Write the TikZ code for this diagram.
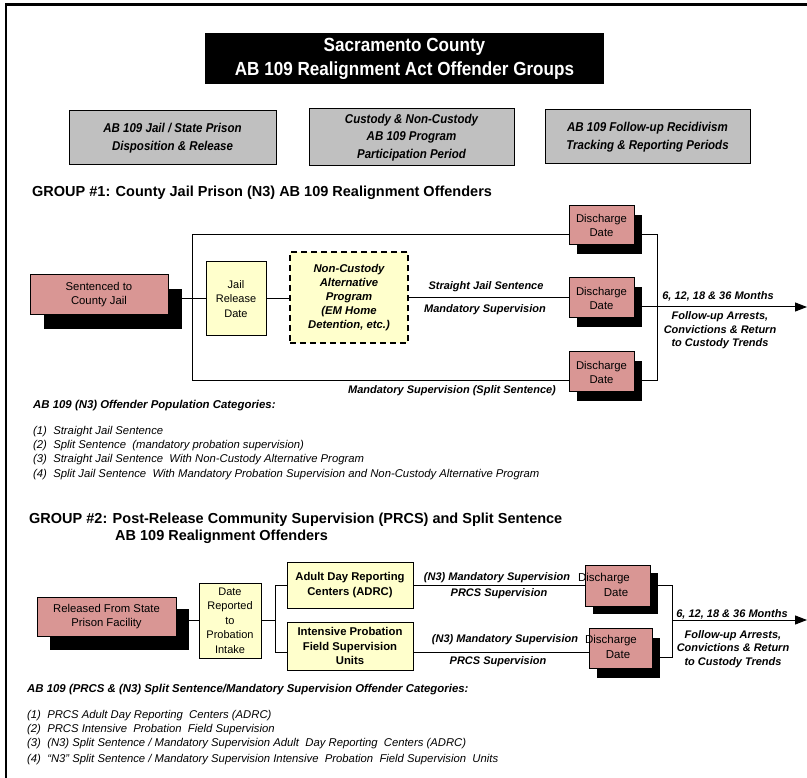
\documentclass[tikz,border=0pt]{standalone}
\usepackage{fontspec}
\setmainfont{Liberation Sans}
\newfontfamily\narrowfont[FakeStretch=0.9]{Liberation Sans}
\usetikzlibrary{arrows.meta}
\definecolor{pinkc}{RGB}{217,150,148}
\definecolor{yelc}{RGB}{255,255,204}
\definecolor{grayc}{RGB}{192,192,192}
\tikzset{
  conn/.style={line width=1pt},
  pinkbox/.style={draw, fill=pinkc, line width=1pt, inner sep=0pt, align=center, font=\fontsize{11.3}{14}\selectfont},
  shadowbox/.style={fill=black, inner sep=0pt},
  yelbox/.style={draw, fill=yelc, line width=1pt, inner sep=0pt, align=center, font=\fontsize{11}{14.5}\selectfont},
  graybox/.style={draw, fill=grayc, line width=1pt, inner sep=0pt, align=center, font=\narrowfont\bfseries\itshape\fontsize{12.8}{17.5}\selectfont},
  lbl/.style={inner sep=0pt, font=\bfseries\itshape\fontsize{11}{13.5}\selectfont},
  notehead/.style={inner sep=0pt, anchor=west, font=\bfseries\itshape\fontsize{11.4}{13.5}\selectfont},
  note/.style={inner sep=0pt, anchor=west, font=\itshape\fontsize{11.3}{13}\selectfont},
  head/.style={inner sep=0pt, anchor=west, font=\bfseries\fontsize{14.5}{17}\selectfont},
  arr/.style={conn, -{Triangle[length=12pt,width=9pt]}}
}
\begin{document}
\begin{tikzpicture}[x=1pt,y=-1pt]
\useasboundingbox (0,0) rectangle (807,778);
\draw[line width=2.8pt] (6,778) -- (6,4.5) -- (807,4.5);

% title
\node[fill=black, text=white, minimum width=399pt, minimum height=51pt, inner sep=0pt, align=center,
  font=\narrowfont\bfseries\fontsize{19}{24}\selectfont] (title) at (404.5,58.5)
  {Sacramento County\\AB 109 Realignment Act Offender Groups};

% gray phase boxes
\node[graybox, minimum width=207pt, minimum height=54pt] (g1) at (172.5,138) {AB 109 Jail / State Prison\\Disposition \& Release};
\node[graybox, minimum width=205pt, minimum height=57pt] (g2) at (411.5,137.5) {Custody \& Non-Custody\\AB 109 Program\\Participation Period};
\node[graybox, minimum width=205pt, minimum height=54pt] (g3) at (647.5,137) {AB 109 Follow-up Recidivism\\Tracking \& Reporting Periods};

% ---------------- GROUP 1
\node[head] (h1) at (32,193) {GROUP \#1: County Jail Prison (N3) AB 109 Realignment Offenders};

\node[shadowbox, minimum width=138pt, minimum height=40pt] (sentS) at (113,309) {};
\node[pinkbox, minimum width=138pt, minimum height=40pt] (sent) at (99,295) {Sentenced to\\County Jail};
\node[yelbox, minimum width=60pt, minimum height=74pt] (jail) at (236,299) {Jail\\Release\\Date};
\node[yelbox, dashed, dash pattern=on 6pt off 4pt, line width=1.2pt, minimum width=118pt, minimum height=91pt,
  font=\bfseries\itshape\fontsize{11.3}{14.2}\selectfont] (ncap) at (349,297.5)
  {Non-Custody\\Alternative\\Program\\(EM Home\\Detention, etc.)};

\node[shadowbox, minimum width=65pt, minimum height=39pt] (d1S) at (609.5,234.5) {};
\node[pinkbox, minimum width=65pt, minimum height=39pt] (d1) at (601.5,225.5) {Discharge\\Date};
\node[shadowbox, minimum width=65pt, minimum height=40pt] (d2S) at (609.5,307) {};
\node[pinkbox, minimum width=65pt, minimum height=40pt] (d2) at (601.5,298) {Discharge\\Date};
\node[shadowbox, minimum width=65pt, minimum height=40pt] (d3S) at (609.5,381) {};
\node[pinkbox, minimum width=65pt, minimum height=40pt] (d3) at (601.5,372) {Discharge\\Date};

\coordinate (jx) at (192,0);
\coordinate (rx) at (657,0);
\coordinate (aend1) at (807,307);

\draw[conn] (sentS.east |- jail.west) -- (jail.west);
\draw[conn] (jail.east) -- (ncap.west |- jail.east);
\draw[conn] (ncap.east) -- (d2.west |- ncap.east);
\draw[conn] (d1.west |- d1S.east) -- (jx |- d1S.east) -- (jx |- d3S.east) -- (d3.west |- d3S.east);
\draw[conn] (d1S.east) -- (rx |- d1S.east) -- (rx |- d3S.east) -- (d3S.east);
\draw[arr] (d2S.east) -- (aend1);

\node[lbl] (l1) at (486,287) {Straight Jail Sentence};
\node[lbl] (l2) at (485,310) {Mandatory Supervision};
\node[lbl] (l3) at (718,296) {6, 12, 18 \& 36 Months};
\node[lbl, align=center] (l4) at (720,330.5) {Follow-up Arrests,\\Convictions \& Return\\to Custody Trends};
\node[lbl] (l5) at (452,391) {Mandatory Supervision (Split Sentence)};

\node[notehead] (n1h) at (33,406) {AB 109 (N3) Offender Population Categories:};
\node[note] (n1a) at (33,432) {(1)\ \ Straight Jail Sentence};
\node[note] (n1b) at (33,446) {(2)\ \ Split Sentence\ \ (mandatory probation supervision)};
\node[note] (n1c) at (33,460) {(3)\ \ Straight Jail Sentence\ \ With Non-Custody Alternative Program};
\node[note] (n1d) at (33,475) {(4)\ \ Split Jail Sentence\ \ With Mandatory Probation Supervision and Non-Custody Alternative Program};

% ---------------- GROUP 2
\node[head] (h2a) at (29,520) {GROUP \#2: Post-Release Community Supervision (PRCS) and Split Sentence};
\node[head] (h2b) at (115,537) {AB 109 Realignment Offenders};

\node[shadowbox, minimum width=139pt, minimum height=41pt] (relS) at (119.5,629.5) {};
\node[pinkbox, minimum width=139pt, minimum height=39pt] (rel) at (106.5,616.5) {Released From State\\Prison Facility};
\node[yelbox, minimum width=62pt, minimum height=75pt] (date) at (230,620.5) {Date\\Reported\\to\\Probation\\Intake};
\node[yelbox, minimum width=126pt, minimum height=46pt, font=\bfseries\fontsize{11.3}{15}\selectfont] (adrc) at (350,585) {Adult Day Reporting\\Centers (ADRC)};
\node[yelbox, minimum width=126pt, minimum height=48pt, font=\bfseries\fontsize{11.3}{14.5}\selectfont] (ipfs) at (350,646) {Intensive Probation\\Field Supervision\\Units};

\node[shadowbox, minimum width=65pt, minimum height=41pt] (e1S) at (625.5,593.5) {};
\node[pinkbox, minimum width=65pt, minimum height=41pt] (e1) at (617.5,585.5) {};
\node[shadowbox, minimum width=63pt, minimum height=40pt] (e2S) at (628.5,658) {};
\node[pinkbox, minimum width=63pt, minimum height=40pt] (e2) at (620.5,648) {};
\node[inner sep=0pt, font=\fontsize{11.5}{14}\selectfont] (e1a) at (604,579) {Discharge};
\node[inner sep=0pt, font=\fontsize{11.5}{14}\selectfont] (e1b) at (616,593) {Date};
\node[inner sep=0pt, font=\fontsize{11.5}{14}\selectfont] (e2a) at (611,641) {Discharge};
\node[inner sep=0pt, font=\fontsize{11.5}{14}\selectfont] (e2b) at (618,655) {Date};

\coordinate (jx2) at (275,0);
\coordinate (rx2) at (672,0);
\coordinate (y2a) at (0,585.5);
\coordinate (y2b) at (0,652);
\coordinate (y2c) at (0,657);
\coordinate (y2d) at (0,620);
\coordinate (aend2) at (807,620);

\draw[conn] (relS.east |- date.west) -- (date.west);
\draw[conn] (date.east) -- (jx2 |- date.east);
\draw[conn] (adrc.west |- y2a) -- (jx2 |- y2a) -- (jx2 |- y2b) -- (ipfs.west |- y2b);
\draw[conn] (adrc.east |- y2a) -- (e1.west |- y2a);
\draw[conn] (ipfs.east |- y2b) -- (e2.west |- y2b);
\draw[conn] (e1S.east |- y2a) -- (rx2 |- y2a) -- (rx2 |- y2c) -- (e2S.east |- y2c);
\draw[arr] (rx2 |- y2d) -- (aend2);

\node[lbl] (m1) at (497,578) {(N3) Mandatory Supervision};
\node[lbl] (m2) at (499,594) {PRCS Supervision};
\node[lbl] (m3) at (505,640) {(N3) Mandatory Supervision};
\node[lbl] (m4) at (498,662) {PRCS Supervision};
\node[lbl] (t1) at (732,614) {6, 12, 18 \& 36 Months};
\node[lbl, align=center] (t2) at (733,649) {Follow-up Arrests,\\Convictions \& Return\\to Custody Trends};

\node[notehead] (n2h) at (27,690) {AB 109 (PRCS \& (N3) Split Sentence/Mandatory Supervision Offender Categories:};
\node[note] (n2a) at (27,716) {(1)\ \ PRCS Adult Day Reporting\ \ Centers (ADRC)};
\node[note] (n2b) at (27,730) {(2)\ \ PRCS Intensive\ \ Probation\ \ Field Supervision};
\node[note] (n2c) at (27,744) {(3)\ \ (N3) Split Sentence / Mandatory Supervision Adult\ \ Day Reporting\ \ Centers (ADRC)};
\node[note] (n2d) at (27,760) {(4)\ \ “N3” Split Sentence / Mandatory Supervision Intensive\ \ Probation\ \ Field Supervision\ \ Units};
\end{tikzpicture}
\end{document}
